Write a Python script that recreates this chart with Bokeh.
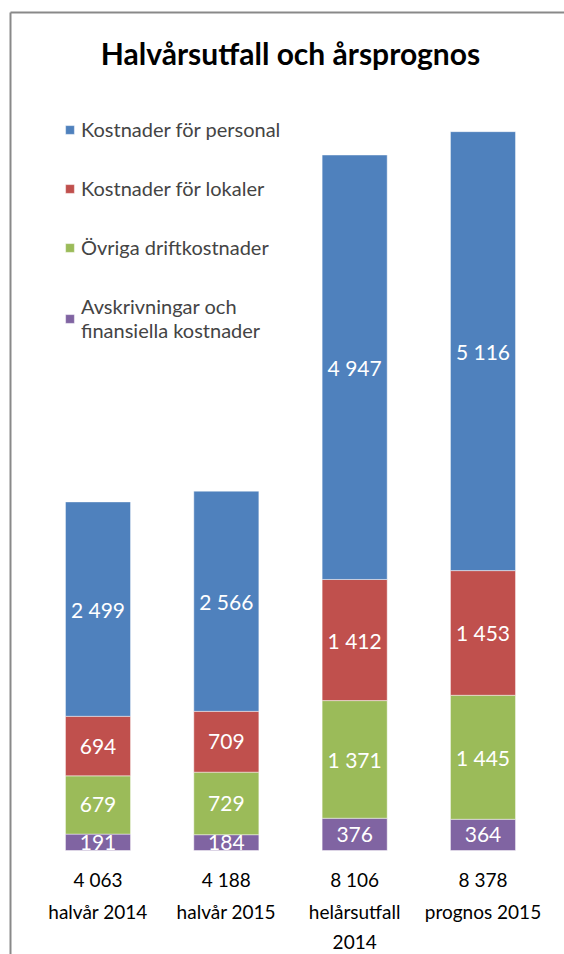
from bokeh.plotting import figure
from bokeh.models import Range1d, ColumnDataSource, Legend, LegendItem, Label
from bokeh.core.properties import value
from bokeh.embed import file_html
from bokeh.resources import INLINE

# ---- data ----
categories = ["halvår 2014", "halvår 2015", "helårsutfall\n2014", "prognos 2015"]
series_names = ["Kostnader för personal", "Kostnader för lokaler",
                "Övriga driftkostnader", "Avskrivningar och\nfinansiella kostnader"]
personal = [2499, 2566, 4947, 5116]
lokaler = [694, 709, 1412, 1453]
ovriga = [679, 729, 1371, 1445]
avskr = [191, 184, 376, 364]
totals = [4063, 4188, 8106, 8378]
colors = ["#4F81BD", "#C0504D", "#9BBB59", "#8064A2"]
title_text = "Halvårsutfall och årsprognos"

FONT = "Lato"
W, H = 564, 954
X0, DX = 97.5, 128.33      # px of first category centre, px per category
Y_BASE, SY = 850.0, 0.0858  # px of value 0 (from top), px per unit

x_start, x_end = -X0 / DX, (W - X0) / DX
y_end, y_start = Y_BASE / SY, -(H - Y_BASE) / SY

def fmt(v):
    return f"{v:,}".replace(",", " ")

p = figure(width=W, height=H, output_backend="svg", toolbar_location=None,
           x_range=Range1d(x_start, x_end), y_range=Range1d(y_start, y_end),
           x_axis_location=None, y_axis_location=None, min_border=0,
           background_fill_color="white", border_fill_color="white")
p.outline_line_color = None
p.xgrid.visible = False
p.ygrid.visible = False

idx = list(range(len(categories)))
# stacking order bottom -> top
stack_keys = ["avskr", "ovriga", "lokaler", "personal"]
stack_vals = {"avskr": avskr, "ovriga": ovriga, "lokaler": lokaler, "personal": personal}
stack_cols = {"avskr": colors[3], "ovriga": colors[2], "lokaler": colors[1], "personal": colors[0]}
src = ColumnDataSource(dict(x=idx, **stack_vals))
renderers = p.vbar_stack(stack_keys, x="x", width=0.507, source=src,
                         fill_color=[stack_cols[k] for k in stack_keys],
                         line_color="white", line_alpha=0.45, line_width=1)

# segment labels
lx, ly, lt = [], [], []
for i in idx:
    cum = 0
    for k in stack_keys:
        v = stack_vals[k][i]
        lx.append(i); ly.append(cum + v / 2); lt.append(fmt(v))
        cum += v
p.text(x=lx, y=ly, text=lt, text_color="white", text_font=value(FONT),
       text_font_size="21px", text_align="center", text_baseline="middle")

# totals & category labels below bars
p.text(x=idx, y=[0] * 4, text=[fmt(t) for t in totals], y_offset=29,
       text_color="black", text_font=value(FONT), text_font_size="19px",
       text_align="center", text_baseline="middle")
p.text(x=idx, y=[0] * 4, text=categories, y_offset=49, text_line_height=1.33,
       text_color="black", text_font=value(FONT), text_font_size="19px",
       text_align="center", text_baseline="top")

# frame lines (left and top)
fx = (10 - X0) / DX
fy = (Y_BASE - 12) / SY
p.segment(x0=[fx, fx], y0=[fy, fy], x1=[fx, x_end + 1], y1=[y_start - 100, fy],
          line_color="#898989", line_width=2)

# title
p.add_layout(Label(x=1.5, y=y_end, y_offset=-52, text=title_text,
                   text_font=FONT, text_font_style="bold",
                   text_font_size="30px", text_align="center",
                   text_baseline="middle", text_color="black"))

# legend
rmap = {"personal": renderers[3], "lokaler": renderers[2], "ovriga": renderers[1], "avskr": renderers[0]}
items = [LegendItem(label=series_names[j], renderers=[rmap[k]])
         for j, k in enumerate(["personal", "lokaler", "ovriga", "avskr"])]
legend = Legend(items=items, location=(64, 612), padding=0, margin=0,
                spacing=35, glyph_width=11, glyph_height=11, label_standoff=6,
                label_text_font=FONT, label_text_font_size="20px",
                label_text_line_height=1.3,
                border_line_color=None, background_fill_alpha=0)
p.add_layout(legend, "center")

open("out.html", "w").write(file_html(p, INLINE))
